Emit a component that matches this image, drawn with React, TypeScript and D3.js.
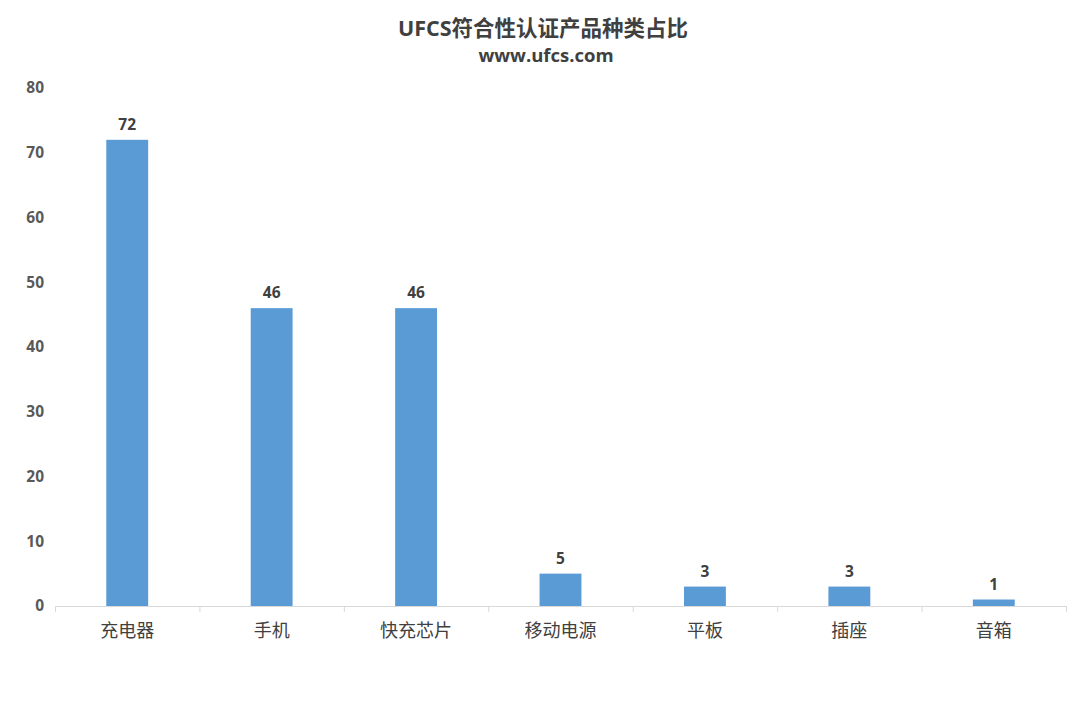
import React from "react";
import * as d3 from "d3";

const categories = ["充电器", "手机", "快充芯片", "移动电源", "平板", "插座", "音箱"];
const values = [72, 46, 46, 5, 3, 3, 1];
const yTicks = [0, 10, 20, 30, 40, 50, 60, 70, 80];
const titleLine1 = "UFCS符合性认证产品种类占比";
const titleLine2 = "www.ufcs.com";

export default function App() {
  const W = 1080, H = 714;
  const x0 = 55, x1 = 1066, yBase = 606, yTop = 88;
  const x = d3.scaleBand<string>().domain(categories).range([x0, x1]).paddingInner(0.71).paddingOuter(0.355);
  const band = d3.scaleBand<string>().domain(categories).range([x0, x1]);
  const y = d3.scaleLinear().domain([0, 80]).range([yBase, yTop]);
  const font = "'Open Sans', 'Noto Sans CJK SC', sans-serif";
  const boundaries = categories.map((c) => band(c) as number).concat([x1]);
  return (
    <svg width={W} height={H} style={{ position: "absolute", left: 0, top: 0 }}>
      <rect width={W} height={H} fill="#fff" />
      <text x={543} y={36} textAnchor="middle" fontFamily={font} fontWeight="bold" fontSize={21.5} fill="#404040">{titleLine1}</text>
      <text x={546} y={62} textAnchor="middle" fontFamily={font} fontWeight="bold" fontSize={18.5} fill="#404040">{titleLine2}</text>
      {yTicks.map((t) => (
        <text key={t} x={44} y={y(t)} dy="0.35em" textAnchor="end" fontFamily={font} fontWeight="bold" fontSize={15.5} fill="#595959">{t}</text>
      ))}
      <line x1={x0} x2={x1} y1={yBase + 0.5} y2={yBase + 0.5} stroke="#d9d9d9" strokeWidth={1} />
      {boundaries.map((b, i) => (
        <line key={i} x1={b + 0.5} x2={b + 0.5} y1={yBase} y2={yBase + 6} stroke="#d9d9d9" strokeWidth={1} />
      ))}
      {categories.map((c, i) => (
        <g key={c}>
          <rect x={x(c)} y={y(values[i])} width={x.bandwidth()} height={yBase - y(values[i])} fill="#5B9BD5" />
          <text x={(x(c) as number) + x.bandwidth() / 2} y={y(values[i]) - 10} textAnchor="middle" fontFamily={font} fontWeight="bold" fontSize={15.5} fill="#404040">{values[i]}</text>
          <text x={(band(c) as number) + band.bandwidth() / 2} y={637} textAnchor="middle" fontFamily="'Noto Sans CJK SC', serif" fontSize={18} fill="#404040">{c}</text>
        </g>
      ))}
    </svg>
  );
}
